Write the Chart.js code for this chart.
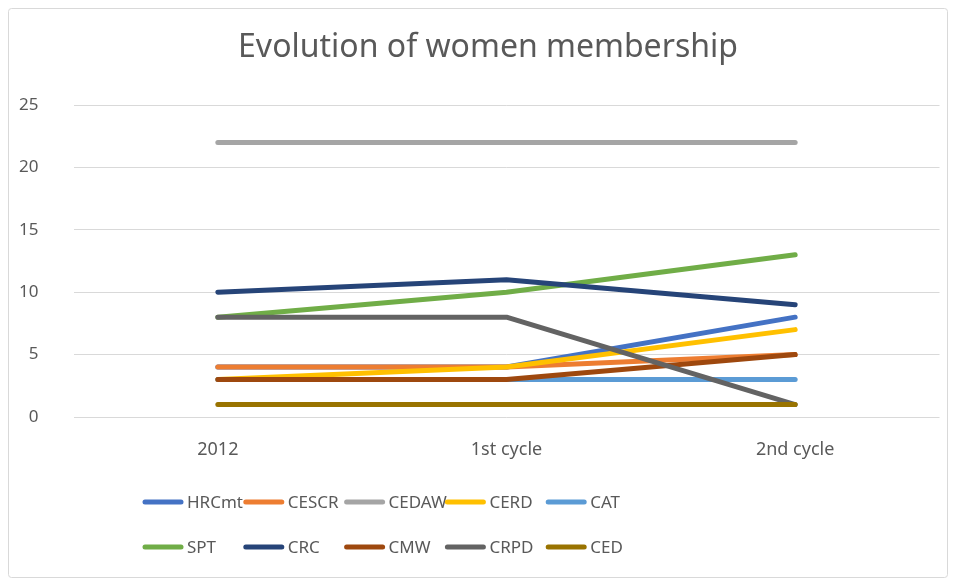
<!DOCTYPE html>
<html lang="en">
<head>
<meta charset="UTF-8">
<title>Evolution of women membership</title>
<script src="https://cdn.jsdelivr.net/npm/chart.js"></script>
<style>
  body { margin: 0; background: #fff; }
</style>
</head>
<body>
<canvas id="myChart" width="956" height="586"></canvas>
<script>
// categories and series
const categories = ['2012', '1st cycle', '2nd cycle'];
const HRCmt = [4, 4, 8];
const CESCR = [4, 4, 5];
const CEDAW = [22, 22, 22];
const CERD = [3, 4, 7];
const CAT = [3, 3, 3];
const SPT = [8, 10, 13];
const CRC = [10, 11, 9];
const CMW = [3, 3, 5];
const CRPD = [8, 8, 1];
const CED = [1, 1, 1];
const yTicks = [0, 5, 10, 15, 20, 25];

const seriesNames = ['HRCmt', 'CESCR', 'CEDAW', 'CERD', 'CAT', 'SPT', 'CRC', 'CMW', 'CRPD', 'CED'];
const seriesValues = [HRCmt, CESCR, CEDAW, CERD, CAT, SPT, CRC, CMW, CRPD, CED];
const colors = ['#4472C4', '#ED7D31', '#A5A5A5', '#FFC000', '#5B9BD5',
                '#70AD47', '#264478', '#9E480E', '#636363', '#997300'];

const FONT = '"Noto Sans", sans-serif';
const TEXT = '#595959';

// frame, title and a two-row legend laid out in columns like the original
const decor = {
  id: 'decor',
  beforeDraw(chart) {
    const c = chart.ctx;
    c.save();
    c.fillStyle = '#fff';
    c.fillRect(0, 0, chart.width, chart.height);
    c.strokeStyle = '#d9d9d9';
    c.lineWidth = 1;
    c.beginPath();
    c.roundRect(8.5, 8.5, 939, 569, 3);
    c.stroke();
    c.restore();
  },
  afterDraw(chart) {
    const c = chart.ctx;
    c.save();
    c.fillStyle = TEXT;
    c.font = '32px ' + FONT;
    c.textAlign = 'center';
    c.textBaseline = 'middle';
    c.fillText('Evolution of women membership', 488, 48);

    c.font = '17px ' + FONT;
    c.textAlign = 'left';
    chart.data.datasets.forEach((ds, i) => {
      const x = 143 + (i % 5) * 100.8;
      const y = i < 5 ? 502 : 547;
      c.strokeStyle = ds.borderColor;
      c.lineWidth = 5;
      c.lineCap = 'round';
      c.beginPath();
      c.moveTo(x + 2, y);
      c.lineTo(x + 38, y);
      c.stroke();
      c.fillStyle = TEXT;
      c.fillText(ds.label, x + 44, y + 1);
    });
    c.restore();
  }
};

const ctx = document.getElementById('myChart').getContext('2d');

const chart = new Chart(ctx, {
  type: 'line',
  data: {
    labels: categories,
    datasets: seriesNames.map((name, i) => ({
      label: name,
      data: seriesValues[i],
      borderColor: colors[i],
      backgroundColor: colors[i],
      borderWidth: 5,
      borderCapStyle: 'round',
      borderJoinStyle: 'round',
      pointRadius: 0,
      tension: 0,
      fill: false,
      order: -i
    }))
  },
  options: {
    responsive: false,
    animation: false,
    layout: {
      padding: { left: 0, right: 16.5, top: 105, bottom: 109 }
    },
    scales: {
      x: {
        type: 'category',
        offset: true,
        grid: { display: false },
        border: { display: false },
        ticks: { color: TEXT, font: { family: FONT, size: 18 }, padding: 14 },
        afterFit(scale) { scale.height = 60; }
      },
      y: {
        min: 0,
        max: 25,
        afterBuildTicks(scale) { scale.ticks = yTicks.map(v => ({ value: v })); },
        grid: { color: '#d9d9d9', lineWidth: 1, drawTicks: false },
        border: { display: false },
        ticks: { color: TEXT, font: { family: FONT, size: 17 }, padding: 35 },
        afterFit(scale) { scale.width = 73.5; }
      }
    },
    plugins: {
      legend: { display: false },
      title: { display: false },
      tooltip: { enabled: false }
    }
  },
  plugins: [decor]
});
</script>
</body>
</html>
